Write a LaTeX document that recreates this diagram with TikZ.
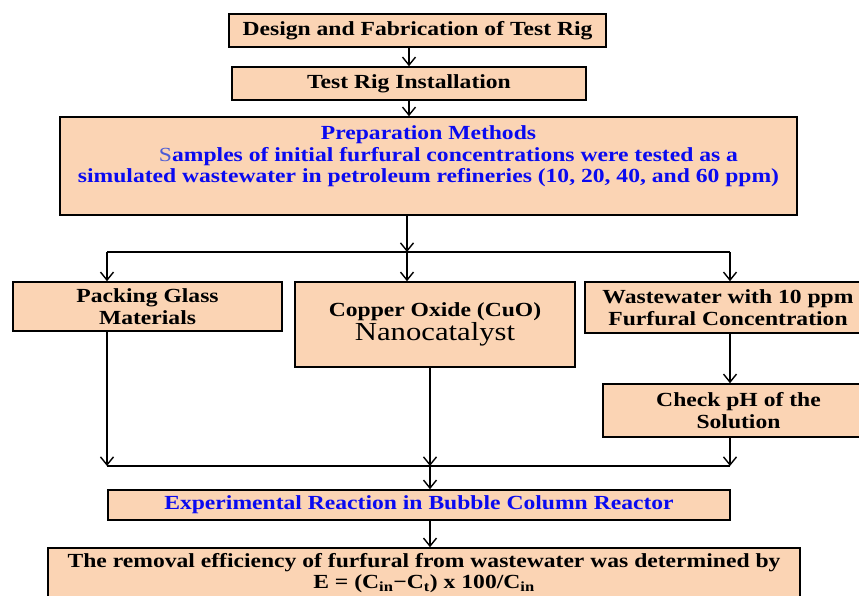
\documentclass[tikz,border=0pt]{standalone}
\usepackage{fontspec}
\setmainfont[FakeStretch=1.18]{Liberation Serif}
\usetikzlibrary{positioning,arrows.meta}
\definecolor{peach}{HTML}{FBD4B4}
\definecolor{prepblue}{HTML}{0A0AF0}
\definecolor{softblue}{HTML}{4A5BD6}

\begin{document}
\begin{tikzpicture}
[every node/.style={inner sep=0pt},
 box/.style={rectangle, fill=peach, draw=black, line width=1.6pt, align=center, font=\bfseries\fontsize{20}{21.5}\selectfont},
 link/.style={line width=1.4pt, color=black},
 >={Straight Barb[length=8pt,width=13pt]}]
\clip (0pt, 0pt) rectangle (859pt, -596pt);
\node (design) [box, minimum width=377pt, minimum height=33pt] at (417.5pt, -30.5pt) {Design and Fabrication of Test Rig};
\node (install) [box, minimum width=354pt, minimum height=33pt] at (409pt, -83.5pt) {Test Rig Installation};
\node (prep) [box, text=prepblue] at (428.5pt, -166pt) {\parbox[c][98pt][t]{737pt}{\centering\vspace*{9pt}Preparation Methods\\
 \hspace*{40pt}{\mdseries\color{softblue}S}amples of initial furfural concentrations were tested as a\\
 simulated wastewater in petroleum refineries (10, 20, 40, and 60 ppm)}};
\node (packing) [box, minimum width=269pt, minimum height=49pt] at (147.5pt, -306.5pt) {Packing Glass\\Materials};
\node (copper) [box, minimum width=280pt, minimum height=85pt] at (435pt, -324.5pt) {Copper Oxide (CuO)\\{\mdseries\fontsize{26}{24}\selectfont Nanocatalyst}};
\node (waste) [box, minimum width=286pt, minimum height=51pt] at (728pt, -307.5pt) {Wastewater with 10 ppm\\Furfural Concentration};
\node (check) [box, minimum width=271pt, minimum height=53pt] at (738.5pt, -410.5pt) {Check pH of the\\Solution};
\node (exper) [box, text=prepblue, minimum width=622pt, minimum height=30pt] at (419pt, -505pt) {Experimental Reaction in Bubble Column Reactor};
\node (removal) [box, minimum width=752pt, minimum height=50pt, font=\bfseries\fontsize{20}{21}\selectfont] at (424pt, -573pt) {The removal efficiency of furfural from wastewater was determined by\\E = (C\textsubscript{in}−C\textsubscript{t}) x 100/C\textsubscript{in}};
% split and join points
\coordinate (split) at (407pt, -252pt);
\coordinate (splitL) at (107pt, -252pt);
\coordinate (splitR) at (730pt, -252pt);
\coordinate (join) at (430pt, -466pt);
\coordinate (joinL) at (107pt, -466pt);
\coordinate (joinR) at (730pt, -466pt);
\draw [link, ->] (install.north |- design.south) to (install.north);
\draw [link, ->] (install.south) to (install.south |- prep.north);
\draw [link, ->] (prep.south -| split) to (split);
\draw [link] (splitL) to (splitR);
\draw [link, ->] (splitL) to (splitL |- packing.north);
\draw [link, ->] (split) to (split |- copper.north);
\draw [link, ->] (splitR) to (splitR |- waste.north);
\draw [link, ->] (waste.south -| splitR) to (splitR |- check.north);
\draw [link, ->] (packing.south -| joinL) to (joinL);
\draw [link, ->] (copper.south -| join) to (join);
\draw [link, ->] (check.south -| joinR) to (joinR);
\draw [link] (joinL) to (joinR);
\draw [link, ->] (join) to (join |- exper.north);
\draw [link, ->] (join |- exper.south) to (join |- removal.north);
\end{tikzpicture}
\end{document}
